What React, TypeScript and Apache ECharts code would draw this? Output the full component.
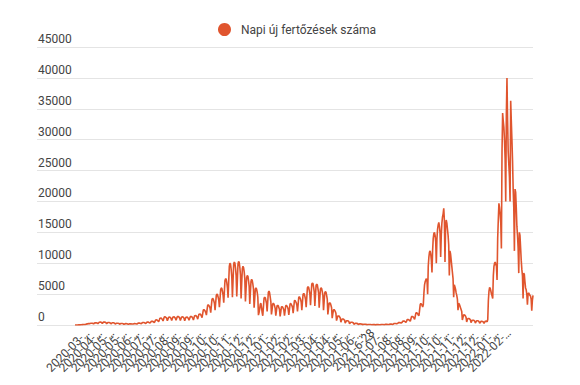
import React, { useEffect, useRef } from "react";
import * as echarts from "echarts";

const seriesName = "Napi új fertőzések száma";
const startDate = "2020-03-05";

// one row = one week (first value = weekly low)
const spring2020 = [
  3, 5,
  4, 6, 8, 12, 17, 20, 25,
  30, 35, 45, 57, 60, 75, 90,
  70, 100, 140, 160, 180, 190, 220,
  170, 230, 260, 280, 270, 290, 300,
  200, 280, 350, 380, 370, 340, 320,
  230, 330, 440, 480, 470, 430, 400,
  240, 350, 470, 500, 490, 440, 380,
  200, 300, 400, 420, 410, 370, 330,
  180, 270, 360, 380, 370, 330, 290,
  150, 220, 280, 300, 290, 260, 230,
  120, 180, 240, 250, 240, 220, 190,
  100, 160, 210, 220, 210, 190, 170,
  100, 150, 190, 200, 195, 180, 160,
  110, 170, 220, 230, 225, 200, 180,
  150, 240, 310, 330, 320, 290, 260,
  200, 300, 400, 420, 410, 370, 330,
  230, 340, 460, 480, 470, 430, 380,
];

const autumn2020 = [
  300, 440, 590, 620, 600, 550, 480,
  400, 600, 800, 850, 830, 750, 660,
  550, 820, 1100, 1150, 1120, 1020, 900,
  650, 950, 1280, 1350, 1320, 1200, 1060,
  700, 950, 1250, 1300, 1280, 1180, 1050,
  720, 1000, 1300, 1350, 1310, 1200, 1080,
  750, 1050, 1350, 1400, 1380, 1250, 1100,
  730, 1000, 1300, 1350, 1320, 1220, 1080,
  700, 980, 1260, 1300, 1280, 1180, 1050,
  750, 1050, 1350, 1400, 1380, 1280, 1120,
  820, 1150, 1500, 1550, 1520, 1400, 1250,
  950, 1350, 1750, 1800, 1780, 1650, 1450,
  1200, 1800, 2400, 2500, 2450, 2250, 2000,
  1600, 2400, 3150, 3300, 3250, 3000, 2700,
  2000, 3100, 4100, 4300, 4200, 3900, 3500,
  2400, 3600, 4800, 5000, 4900, 4500, 4000,
  2900, 4300, 5700, 6000, 5900, 5400, 4800,
  3600, 5400, 7200, 7500, 7400, 6800, 6000,
  4400, 7000, 9500, 10000, 9800, 9000, 7800,
  4500, 7200, 9800, 10200, 10000, 9200, 8000,
  4600, 7300, 9900, 10300, 10100, 9300, 8100,
  4300, 6800, 9100, 9500, 9300, 8600, 7500,
  3800, 5800, 7700, 8000, 7900, 7200, 6300,
  3400, 5300, 7100, 7400, 7200, 6600, 5800,
  2800, 4300, 5800, 6000, 5800, 5300, 4500,
  1600, 2000, 2600, 3400, 3500, 2800, 2000,
];

const spring2021 = [
  1500, 2900, 4300, 4500, 4400, 4000, 3500,
  2200, 3800, 5300, 5500, 5200, 4500, 3800,
  1700, 2500, 3400, 3500, 3400, 3100, 2700,
  1500, 2300, 3100, 3200, 3100, 2800, 2500,
  1400, 2100, 2900, 3000, 2900, 2700, 2400,
  1500, 2300, 3100, 3200, 3150, 2900, 2500,
  1650, 2500, 3400, 3500, 3450, 3150, 2800,
  1900, 2900, 3900, 4000, 3950, 3600, 3200,
  2200, 3300, 4450, 4600, 4550, 4150, 3700,
  2400, 3700, 4950, 5100, 5000, 4600, 4100,
  2900, 4500, 6000, 6200, 6100, 5600, 5000,
  3200, 4900, 6600, 6800, 6700, 6100, 5400,
  3100, 4800, 6400, 6600, 6500, 5900, 5200,
  2800, 4300, 5800, 6000, 5900, 5400, 4800,
  2400, 3800, 5200, 5400, 5300, 4800, 4200,
  1700, 2600, 3500, 3600, 3500, 3200, 2800,
  1100, 1800, 2400, 2500, 2450, 2200, 1900,
  700, 1100, 1450, 1500, 1450, 1300, 1150,
  450, 720, 970, 1000, 980, 880, 780,
  310, 500, 680, 700, 690, 620, 540,
  200, 320, 440, 450, 440, 400, 350,
];

const summer2021 = [
  120, 200, 270, 280, 275, 250, 220,
  80, 130, 175, 180, 175, 160, 140,
  50, 85, 115, 120, 118, 105, 95,
  35, 60, 85, 90, 88, 80, 70,
  25, 45, 65, 70, 68, 62, 55,
  20, 40, 55, 60, 58, 55, 50,
  30, 55, 75, 80, 78, 72, 65,
  45, 75, 105, 110, 108, 100, 90,
  60, 100, 145, 150, 148, 135, 120,
  100, 170, 240, 250, 245, 225, 200,
  170, 280, 385, 400, 395, 360, 320,
  280, 450, 625, 650, 640, 580, 510,
  400, 630, 870, 900, 890, 810, 720,
  600, 980, 1350, 1400, 1380, 1260, 1120,
  900, 1400, 1930, 2000, 1980, 1800, 1600,
];

const autumn2021 = [
  1500, 2400, 3300, 3500, 3450, 3200, 2900,
  3300, 5200, 6500, 7000, 7300, 7500, 7200,
  5000, 9500, 11000, 11800, 12000, 11500, 10500,
  8500, 12000, 14000, 14800, 15000, 14500, 13500,
  10000, 14000, 15500, 16200, 16600, 16000, 15000,
  11000, 14500, 16500, 17500, 18000, 18900, 17000,
  10200, 16000, 17000, 16500, 15500, 14500, 13000,
  8000, 12000, 11500, 10500, 9500, 8500, 7500,
  4500, 6500, 6200, 5800, 5200, 4800, 4200,
  2400, 3500, 3400, 3100, 2800, 2500, 2200,
  800, 1200, 1650, 1700, 1600, 1450, 1250,
  500, 800, 1050, 1100, 1050, 950, 850,
  380, 580, 780, 800, 780, 700, 620,
  320, 500, 680, 700, 680, 620, 540,
  280, 430, 580, 600, 590, 540, 480,
  280, 450, 600, 650, 620, 500, 900,
];

const winter2022 = [
  4000, 5500, 6100, 5900, 5500, 5000, 4700,
  4300, 8000, 9500, 10000, 10200, 9800, 9500,
  7300, 14000, 17000, 19700, 19000, 18000, 16500,
  12400, 28000, 34300, 33000, 32000, 30000, 27000,
  20000, 34000, 40000, 33000, 28000, 26000, 24000,
  20000, 36300, 33000, 30000, 26600, 22000, 19000,
  12000, 22000, 21500, 19000, 16000, 14500, 12500,
  8400, 15000, 14500, 12500, 10500, 9000, 8000,
  4300, 8400, 8200, 7000, 6000, 5700, 5000,
  3300, 5000, 5200, 5000, 4800, 4700, 4200,
  2300, 4000, 4800,
];

const tickLabels = [
  "2020-03-05", "2020-03-25", "2020-04-14", "2020-05-04", "2020-05-24",
  "2020-06-13", "2020-07-03", "2020-07-23", "2020-08-12", "2020-09-01",
  "2020-09-21", "2020-10-11", "2020-10-31", "2020-11-20", "2020-12-10",
  "2020-12-30", "2021-01-19", "2021-02-08", "2021-02-28", "2021-03-20",
  "2021-04-09", "2021-04-29", "2021-05-19", "2021-06-08", "2021-6-28",
  "2021-07-18", "2021-08-07", "2021-08-27", "2021-09-16", "2021-10-06",
  "2021-10-26", "2021-11-15", "2021-12-05", "2021-12-25", "2022-01-14",
  "2022-02-03", "2022-02-23",
];

const cases = [
  ...spring2020,
  ...autumn2020,
  ...spring2021,
  ...summer2021,
  ...autumn2021,
  ...winter2022,
];

const categories: string[] = (() => {
  const out: string[] = [];
  const [y, m, d] = startDate.split("-").map(Number);
  const t0 = Date.UTC(y, m - 1, d);
  for (let i = 0; i < cases.length; i++) {
    out.push(new Date(t0 + i * 86400000).toISOString().slice(0, 10));
  }
  return out;
})();

const LINE_COLOR = "#e0552e";

export default function App() {
  const ref = useRef<HTMLDivElement>(null);
  useEffect(() => {
    if (!ref.current) return;
    const chart = echarts.init(ref.current, undefined, { renderer: "svg" });
    chart.setOption({
      animation: false,
      backgroundColor: "#ffffff",
      textStyle: { fontFamily: "Roboto" },
      legend: {
        data: [seriesName],
        left: 213,
        top: 18,
        icon: "circle",
        itemWidth: 13,
        itemHeight: 13,
        textStyle: { color: "#444", fontSize: 12, fontFamily: "Roboto", padding: [0, 0, 0, 5] },
      },
      grid: [
        { left: 75, right: 47, top: 47, bottom: 60 },
        { left: 37, right: 47, top: 47, bottom: 60 },
      ],
      xAxis: [
        {
          gridIndex: 0,
          type: "category",
          data: categories,
          boundaryGap: false,
          axisLine: { show: false },
          axisTick: { show: false },
          splitLine: { show: false },
          axisLabel: {
            interval: 19,
            rotate: 45,
            margin: 6,
            color: "#444",
            fontSize: 12,
            fontFamily: "Roboto",
            formatter: (v: string, i: number) => {
              const t = tickLabels[Math.round(i / 20)] ?? v;
              return t.length > 9 ? t.slice(0, 8) + "…" : t;
            },
          },
        },
        { gridIndex: 1, type: "value", min: 0, max: 1, show: false },
      ],
      yAxis: [
        { gridIndex: 0, type: "value", min: 0, max: 45000, interval: 5000, show: false },
        {
          gridIndex: 1,
          type: "value",
          min: 0,
          max: 45000,
          interval: 5000,
          axisLine: { show: false },
          axisTick: { show: false },
          splitLine: { show: true, lineStyle: { color: "#e4e4e4", width: 1 } },
          axisLabel: {
            inside: true,
            margin: 1,
            verticalAlign: "bottom",
            padding: [0, 0, 2, 0],
            color: "#444",
            fontSize: 12,
            fontFamily: "Roboto",
            formatter: (v: number) => String(v),
          },
        },
      ],
      series: [
        {
          name: seriesName,
          type: "line",
          xAxisIndex: 0,
          yAxisIndex: 0,
          data: cases,
          showSymbol: false,
          symbol: "circle",
          lineStyle: { color: LINE_COLOR, width: 1.6 },
          itemStyle: { color: LINE_COLOR },
          z: 3,
        },
      ],
    });
    return () => chart.dispose();
  }, []);
  return <div ref={ref} style={{ width: 580, height: 385, position: "absolute", left: 0, top: 0 }} />;
}
